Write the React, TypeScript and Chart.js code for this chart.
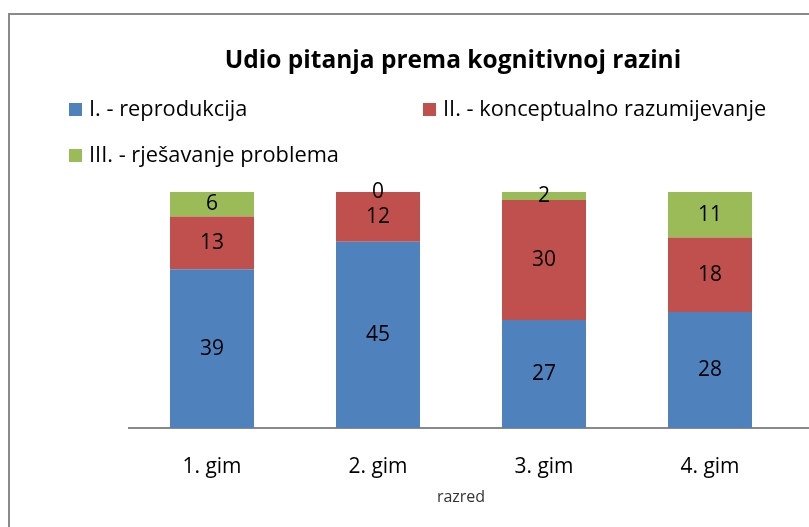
import React, { useEffect, useRef } from "react";
import { Chart, registerables } from "chart.js";

Chart.register(...registerables);

const TITLE = "Udio pitanja prema kognitivnoj razini";
const AXIS_TITLE = "razred";
const categories = ["1. gim", "2. gim", "3. gim", "4. gim"];
const seriesNames = [
  "I. - reprodukcija",
  "II. - konceptualno razumijevanje",
  "III. - rješavanje problema",
];
const reprodukcija = [39, 45, 27, 28];
const konceptualno = [13, 12, 30, 18];
const rjesavanje = [6, 0, 2, 11];
const seriesColors = ["#4F81BD", "#C0504D", "#9BBB59"];

const FONT = "'Open Sans', 'Liberation Sans', sans-serif";

export default function App() {
  const ref = useRef<HTMLCanvasElement | null>(null);

  useEffect(() => {
    const canvas = ref.current;
    if (!canvas) return;
    const raw = [reprodukcija, konceptualno, rjesavanje];
    const totals = categories.map((_, j) => raw.reduce((s, arr) => s + arr[j], 0));
    const pct = raw.map((arr) => arr.map((v, j) => (v / totals[j]) * 100));

    const decorPlugin = {
      id: "decor",
      beforeDraw(chart: any) {
        const ctx = chart.ctx;
        ctx.save();
        ctx.fillStyle = "#ffffff";
        ctx.fillRect(0, 0, chart.width, chart.height);
        // frame
        ctx.strokeStyle = "#8a8a8a";
        ctx.lineWidth = 2;
        ctx.strokeRect(9, 14, 900, 600);
        // title
        ctx.fillStyle = "#000000";
        ctx.font = `bold 24.5px ${FONT}`;
        ctx.textAlign = "center";
        ctx.textBaseline = "middle";
        ctx.fillText(TITLE, 453, 61);
        // legend
        const pos = [
          [69, 103],
          [423, 103],
          [69, 149],
        ];
        ctx.font = `21.8px ${FONT}`;
        ctx.textAlign = "left";
        chart.data.datasets.forEach((ds: any, i: number) => {
          const [x, y] = pos[i];
          ctx.fillStyle = ds.backgroundColor;
          ctx.fillRect(x, y, 13, 13);
          ctx.fillStyle = "#000000";
          ctx.fillText(ds.label, x + 20, y + 7);
        });
        // axis line continues to the right edge of the frame
        const area = chart.chartArea;
        ctx.strokeStyle = "#898989";
        ctx.lineWidth = 2;
        ctx.beginPath();
        ctx.moveTo(area.left, area.bottom);
        ctx.lineTo(chart.width, area.bottom);
        ctx.stroke();
        ctx.restore();
      },
      afterDatasetsDraw(chart: any) {
        const ctx = chart.ctx;
        ctx.save();
        ctx.fillStyle = "#000000";
        ctx.font = `21px ${FONT}`;
        ctx.textAlign = "center";
        ctx.textBaseline = "middle";
        chart.data.datasets.forEach((ds: any, i: number) => {
          const meta = chart.getDatasetMeta(i);
          meta.data.forEach((bar: any, j: number) => {
            const p = bar.getProps(["x", "y", "base"], true);
            ctx.fillText(String(raw[i][j]), p.x, (p.y + p.base) / 2);
          });
        });
        ctx.restore();
      },
    };

    const chart = new Chart(canvas, {
      type: "bar",
      data: {
        labels: categories,
        datasets: seriesNames.map((name, i) => ({
          label: name,
          data: pct[i],
          backgroundColor: seriesColors[i],
          borderWidth: 0,
          categoryPercentage: 1,
          barPercentage: 0.506,
        })),
      },
      options: {
        animation: false,
        responsive: false,
        layout: { padding: { left: 129, right: 16, top: 192, bottom: 0 } },
        plugins: {
          legend: { display: false },
          title: { display: false },
          tooltip: { enabled: false },
        },
        scales: {
          x: {
            stacked: true,
            grid: { display: false, drawTicks: false },
            border: { display: true, color: "#898989", width: 2 },
            ticks: {
              color: "#000000",
              font: { family: FONT, size: 21 },
              padding: 26,
            },
            title: {
              display: true,
              text: AXIS_TITLE,
              color: "#333333",
              font: { family: FONT, size: 16 },
              padding: { top: 0, bottom: 20 },
            },
            afterFit(scale: any) {
              scale.height = 99;
            },
          },
          y: {
            stacked: true,
            display: false,
            min: 0,
            max: 100,
          },
        },
      },
      plugins: [decorPlugin],
    });
    return () => chart.destroy();
  }, []);

  return (
    <div style={{ position: "fixed", left: 0, top: 0, width: 809, height: 527, background: "#fff" }}>
      <canvas ref={ref} width={809} height={527} style={{ width: 809, height: 527, display: "block" }} />
    </div>
  );
}
